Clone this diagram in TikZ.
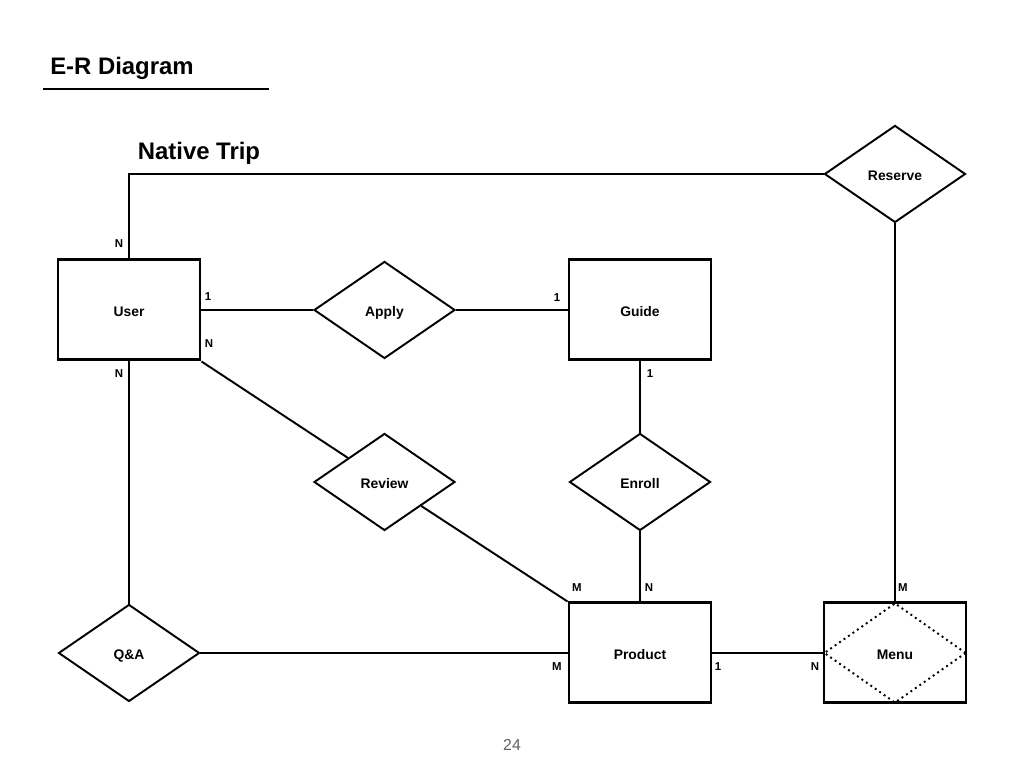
\documentclass[tikz,border=0pt]{standalone}
\usepackage{fontspec}
\setmainfont{Liberation Sans}
\usetikzlibrary{shapes.geometric}

\begin{document}
\begin{tikzpicture}[
    entity/.style={draw,fill=white,minimum width=2.84cm,minimum height=2.0cm,
                   inner sep=0pt,line width=1.7pt,text height=1.4ex,text depth=0pt,
                   font=\fontsize{7.9}{9}\selectfont\bfseries},
    relation/.style={draw,diamond,fill=white,minimum width=2.82cm,minimum height=1.94cm,
                     inner sep=0pt,line width=1.1pt,text height=1.4ex,text depth=0pt,
                     font=\fontsize{7.9}{9}\selectfont\bfseries},
    assoc/.style={draw,diamond,dotted,minimum width=2.84cm,minimum height=2.0cm,
                  inner sep=0pt,line width=1.1pt,text height=1.4ex,text depth=0pt,
                  font=\fontsize{7.9}{9}\selectfont\bfseries},
    card/.style={font=\fontsize{6.5}{8}\selectfont\bfseries,inner sep=0pt},
    heading/.style={font=\fontsize{13.6}{16}\selectfont\bfseries,inner sep=0pt},
    link/.style={line width=1.1pt},
]
\useasboundingbox (0,0) rectangle (20.48,15.36);

% ---- grid positions ------------------------------------------------------
\def\xA{2.58}
\def\xB{7.69}
\def\xC{12.80}
\def\xD{17.90}
\def\yTop{11.88}
\def\yOne{9.16}
\def\yTwo{5.72}
\def\yThree{2.30}

% ---- Headings ------------------------------------------------------------
\node[heading] (title) at (2.44,14.00) {E-R Diagram};
\draw[line width=1.2pt] (0.86,13.58) -- (5.38,13.58);
\node[heading] (trip) at (3.98,12.30) {Native Trip};

% ---- Entities ------------------------------------------------------------
\node[entity] (user)    at (\xA,\yOne)   {User};
\node[entity] (guide)   at (\xC,\yOne)   {Guide};
\node[entity] (product) at (\xC,\yThree) {Product};
\node[entity] (menu)    at (\xD,\yThree) {};
\node[assoc]  (menuD)   at (menu.center) {Menu};

% ---- Relationships -------------------------------------------------------
\node[relation] (reserve) at (\xD,\yTop)   {Reserve};
\node[relation] (apply)   at (\xB,\yOne)   {Apply};
\node[relation] (review)  at (\xB,\yTwo)   {Review};
\node[relation] (enroll)  at (\xC,\yTwo)   {Enroll};
\node[relation] (qna)     at (\xA,\yThree) {Q\&A};

% ---- Connectors ----------------------------------------------------------
\draw[link] (user.north) |- (reserve.west);
\draw[link] (reserve.south) -- (menu.north);
\draw[link] (user.east) -- (apply.west);
\draw[link] (apply.east) -- (guide.west);
\draw[link] (user.south east) -- (review);
\draw[link] (review) -- (product.north west);
\draw[link] (guide.south) -- (enroll.north);
\draw[link] (enroll.south) -- (product.north);
\draw[link] (user.south) -- (qna.north);
\draw[link] (qna.east) -- (product.west);
\draw[link] (product.east) -- (menu.west);

% ---- Cardinalities -------------------------------------------------------
\node[card] (cUserTop) at (2.38,10.48)  {N};
\node[card] (cUserApp) at (4.16,9.42)   {1};
\node[card] (cGuiApp)  at (11.14,9.40)  {1};
\node[card] (cUserRev) at (4.18,8.48)   {N};
\node[card] (cUserQA)  at (2.38,7.88)   {N};
\node[card] (cGuiEnr)  at (13.00,7.88)  {1};
\node[card] (cProRev)  at (11.54,3.60)  {M};
\node[card] (cProEnr)  at (12.98,3.60)  {N};
\node[card] (cProQA)   at (11.14,2.02)  {M};
\node[card] (cProMenu) at (14.36,2.02)  {1};
\node[card] (cMenuPro) at (16.30,2.02)  {N};
\node[card] (cMenuRes) at (18.06,3.60)  {M};

% ---- Page number ---------------------------------------------------------
\node[font=\fontsize{9}{10}\selectfont,text=gray!75!black] (page) at (10.24,0.46) {24};

\end{tikzpicture}
\end{document}
